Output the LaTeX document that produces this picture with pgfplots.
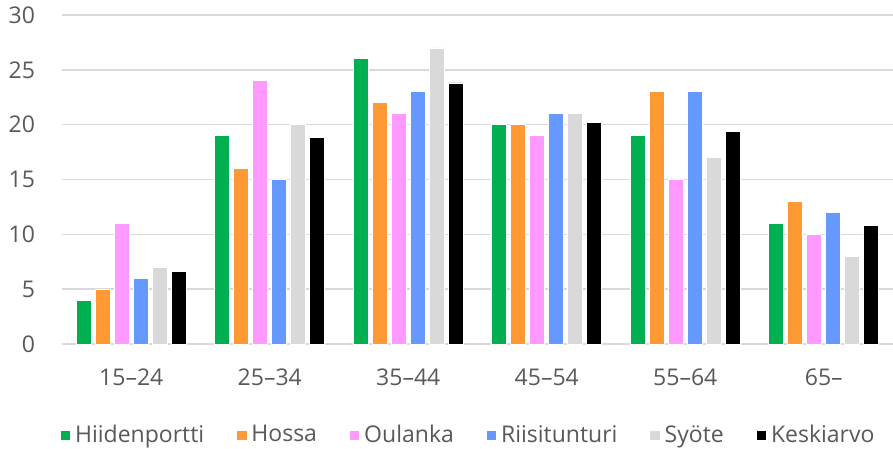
\documentclass[border=0pt]{standalone}
\usepackage{fontspec}
\setmainfont{Open Sans}
\usepackage{pgfplots}
\pgfplotsset{compat=1.18}
\definecolor{cgreen}{HTML}{00B050}
\definecolor{corange}{HTML}{FF9933}
\definecolor{cpink}{HTML}{FF99FF}
\definecolor{cblue}{HTML}{6699FF}
\definecolor{cgrey}{HTML}{D9D9D9}
\definecolor{ctext}{HTML}{595959}
\definecolor{cgrid}{HTML}{D9D9D9}
\begin{document}
\begin{tikzpicture}
\useasboundingbox (-31pt,-52.5pt) rectangle (415.5pt,172pt);
\begin{axis}[
  at={(0,0)}, anchor=south west,
  scale only axis, width=415.5pt, height=164.5pt,
  ybar=2pt, bar width=7.5pt,
  xmin=-0.5, xmax=5.5, ymin=0, ymax=30,
  xtick=data, xticklabels={15–24,25–34,35–44,45–54,55–64,65–},
  ytick={0,5,10,15,20,25,30},
  ymajorgrids, grid style={cgrid, line width=0.75pt},
  axis x line*=bottom, axis y line*=left,
  x axis line style={cgrid, line width=0.75pt, -},
  y axis line style={draw=none},
  major tick length=0pt,
  tick style={draw=none},
  font=\fontsize{11.5pt}{13pt}\selectfont,
  /pgf/number format/assume math mode=true,
  ticklabel style={text=ctext},
  yticklabel style={xshift=-10pt},
  xticklabel style={yshift=-9pt},
  y tick label style={/pgf/number format/fixed},
  legend style={at={(0.49,-0.277)}, anchor=center, draw=none, legend columns=-1,
    font=\fontsize{11.5pt}{13pt}\selectfont, text=ctext,
    /tikz/every even column/.append style={column sep=14pt}},
  legend image code/.code={\fill[#1] (0pt,-2.6pt) rectangle (5.2pt,2.6pt);},
  every axis plot/.append style={draw=white, line width=0.4pt},
]
\addplot[fill=cgreen] coordinates {(0,4) (1,19) (2,26) (3,20) (4,19) (5,11)};
\addplot[fill=corange] coordinates {(0,5) (1,16) (2,22) (3,20) (4,23) (5,13)};
\addplot[fill=cpink] coordinates {(0,11) (1,24) (2,21) (3,19) (4,15) (5,10)};
\addplot[fill=cblue] coordinates {(0,6) (1,15) (2,23) (3,21) (4,23) (5,12)};
\addplot[fill=cgrey] coordinates {(0,7) (1,20) (2,27) (3,21) (4,17) (5,8)};
\addplot[fill=black] coordinates {(0,6.6) (1,18.8) (2,23.8) (3,20.2) (4,19.4) (5,10.8)};
\legend{Hiidenportti,Hossa,Oulanka,Riisitunturi,Syöte,Keskiarvo}
\end{axis}
\end{tikzpicture}
\end{document}
